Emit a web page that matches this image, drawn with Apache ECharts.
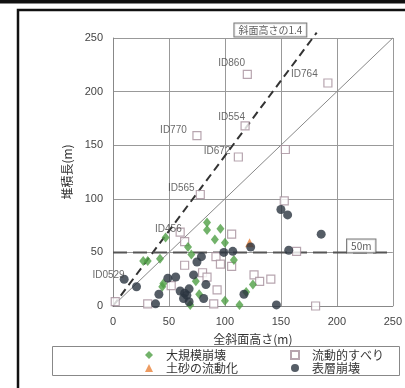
<!DOCTYPE html>
<html><head><meta charset="utf-8">
<script src="https://cdn.jsdelivr.net/npm/echarts@6/dist/echarts.min.js"></script>
<style>html,body{margin:0;padding:0;background:#fff}#c{width:405px;height:388px}</style>
</head><body><div id="c"></div>
<script>
// 大規模崩壊 (green diamonds)
const largeCollapse = [[27,42],[31,42],[42,44],[47,64],[44,18],[45,21],[67,55],[70,48],[74,23],[77,11],[69,1],
  [84,78],[84,71],[96,72],[91,62],[100,59],[108,43],[100,5],[113,1],[119,13],[125,20]];
// 流動的すべり (open squares)
const fluidSlide = [[2,4],[31,2],[52,19],[60,69],[64,60],[64,38],[80,31],[84,27],[90,2],[93,15],[92,46],[96,39],
  [106,37],[106,67],[126,29],[131,23],[141,25],[164,51],[181,0],[153,98],[154,146],[112,139],[78,104],[75,159],
  [118,168],[120,216],[192,208]];
// 土砂の流動化 (orange triangle)
const soilFlow = [[122,59]];
// 表層崩壊 (dark circles)
const surfaceCollapse = [[10,25],[21,18],[41,11],[38,2],[49,26],[56,27],[72,29],[75,41],[79,46],[83,20],[60,14],
  [64,12],[68,16],[66,10],[63,7],[68,4],[81,7],[99,50],[107,51],[123,55],[117,11],[146,1],[157,52],[150,90],
  [156,85],[186,67]];
// reference lines
const line14 = [[0,0],[182,255]];
const line11 = [[0,0],[250,250]];
const line50 = [[0,50],[250,50]];
// annotations: [text, x, y] in data units
const idLabels = [['ID860',106,226],['ID764',171,216],['ID554',106,176],['ID770',54,164],['ID672',93,144],
  ['ID565',61,110],['ID456',49.5,72],['ID0529',-4,29]];
const boxLabels = [['斜面高さの1.4',140.6,257.5],['50m',221.8,56]];
const xTicks = {min:0,max:250,interval:50};
const yTicks = {min:0,max:250,interval:50};

const FONT = '"Noto Sans CJK JP", "Noto Sans", sans-serif';
const chart = echarts.init(document.getElementById('c'), null, {renderer:'canvas'});
const axisCommon = {
  axisLine:{show:true,lineStyle:{color:'#888',width:1}},
  axisTick:{show:false},
  splitLine:{show:true,lineStyle:{color:'#999',width:1}},
  axisLabel:{color:'#444',fontSize:11,fontFamily:'"Liberation Sans", sans-serif',margin:10}
};
const legendText = {color:'#333',fontSize:12,fontFamily:FONT,lineHeight:12,padding:[0,0,0,8]};
chart.setOption({
  animation:false,
  backgroundColor:'#fff',
  grid:{left:113,right:4,top:38,bottom:82,containLabel:false},
  xAxis:Object.assign({type:'value',min:xTicks.min,max:xTicks.max,interval:xTicks.interval,
    name:'全斜面高さ(m)',nameLocation:'middle',nameGap:27,
    nameTextStyle:{color:'#333',fontSize:12,fontFamily:FONT}},axisCommon),
  yAxis:Object.assign({type:'value',min:yTicks.min,max:yTicks.max,interval:yTicks.interval,
    name:'堆積長(m)',nameLocation:'middle',nameGap:36,nameRotate:90,
    nameTextStyle:{color:'#333',fontSize:12,fontFamily:FONT}},axisCommon),
  legend:[
    {left:145,top:349,orient:'vertical',itemWidth:8,itemHeight:8,itemGap:1,padding:0,
     data:['大規模崩壊','土砂の流動化'],textStyle:legendText},
    {left:290,top:349,orient:'vertical',itemWidth:8,itemHeight:8,itemGap:1,padding:0,
     data:['流動的すべり','表層崩壊'],textStyle:legendText}
  ],
  graphic:[
    {type:'rect',shape:{x:0,y:0,width:405,height:3.5},style:{fill:'#111'},silent:true},
    {type:'rect',shape:{x:18,y:10,width:420,height:420},style:{fill:null,stroke:'#111',lineWidth:2.5},silent:true},
    {type:'rect',shape:{x:52.5,y:346.5,width:347,height:29},style:{fill:null,stroke:'#888',lineWidth:1},silent:true}
  ],
  series:[
    {type:'line',data:line11,symbol:'none',silent:true,clip:false,lineStyle:{color:'#888',width:1},z:2},
    {type:'line',data:line14,symbol:'none',silent:true,clip:false,lineStyle:{color:'#333',width:2,type:[8,5]},z:2},
    {type:'line',data:line50,symbol:'none',silent:true,clip:false,lineStyle:{color:'#555',width:2,type:[14,6]},z:2},
    {name:'大規模崩壊',type:'scatter',data:largeCollapse,symbol:'diamond',symbolSize:[8,10],
     itemStyle:{color:'#4f9f45'},z:4},
    {name:'流動的すべり',type:'scatter',data:fluidSlide,symbol:'rect',symbolSize:8,
     itemStyle:{color:'#fff',borderColor:'#a58f9b',borderWidth:1.2},z:3},
    {name:'土砂の流動化',type:'scatter',data:soilFlow,symbol:'triangle',symbolSize:9,
     itemStyle:{color:'#e8823a'},z:4},
    {name:'表層崩壊',type:'scatter',data:surfaceCollapse,symbol:'circle',symbolSize:9,
     itemStyle:{color:'#2b3440'},z:5},
    {type:'scatter',silent:true,clip:false,symbolSize:0,z:6,
     data:idLabels.map(d=>({name:d[0],value:[d[1],d[2]]})),
     label:{show:true,position:'inside',formatter:'{b}',color:'#444',fontSize:10,
       fontFamily:'"Liberation Sans", sans-serif'}},
    {type:'scatter',silent:true,clip:false,symbolSize:0,z:6,
     data:boxLabels.map(d=>({name:d[0],value:[d[1],d[2]]})),
     label:{show:true,position:'inside',formatter:'{b}',color:'#333',fontSize:10,fontFamily:FONT,
       backgroundColor:'#fff',borderColor:'#555',borderWidth:1,padding:[2,4,1,4]}}
  ]
});
</script></body></html>
